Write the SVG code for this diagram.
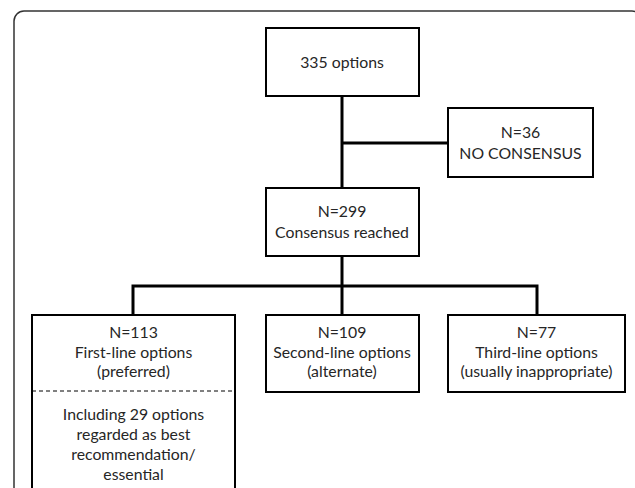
<svg xmlns="http://www.w3.org/2000/svg" width="635" height="488" viewBox="0 0 635 488">
<style>
.box{fill:#fff;stroke:#000;stroke-width:2}
.conn{fill:none;stroke:#000;stroke-width:3;stroke-linejoin:miter}
text{font-family:Lato,"Liberation Sans",sans-serif;font-size:15.8px;fill:#262626;text-anchor:middle}
</style>
<rect x="0" y="0" width="635" height="488" fill="#fff"/>
<rect id="frame" x="14" y="11" width="628" height="500" rx="10" ry="10" fill="none" stroke="#333" stroke-width="1.5"/>
<g id="connectors">
<path class="conn" d="M342,96 V188"/>
<path class="conn" d="M342,143 H448"/>
<path class="conn" d="M342,256 V315"/>
<path class="conn" d="M133,315 V286 H537 V315"/>
</g>
<g id="n-total">
<rect class="box" x="266" y="28" width="153" height="68"/>
<text x="342" y="68">335 options</text>
</g>
<g id="n-noconsensus">
<rect class="box" x="448" y="108" width="145" height="69"/>
<text x="520.5" y="138">N=36</text>
<text x="520.5" y="159">NO CONSENSUS</text>
</g>
<g id="n-consensus">
<rect class="box" x="266" y="188" width="153" height="68"/>
<text x="342" y="217">N=299</text>
<text x="342" y="238">Consensus reached</text>
</g>
<g id="n-first">
<rect class="box" x="32" y="315" width="203" height="200"/>
<line x1="32" y1="391" x2="235" y2="391" stroke="#000" stroke-width="1" stroke-dasharray="4,3"/>
<text x="133.5" y="338">N=113</text>
<text x="133.5" y="358">First-line options</text>
<text x="133.5" y="377">(preferred)</text>
<text x="133.5" y="420">Including 29 options</text>
<text x="133.5" y="440">regarded as best</text>
<text x="133.5" y="460">recommendation/</text>
<text x="133.5" y="480">essential</text>
</g>
<g id="n-second">
<rect class="box" x="266" y="315" width="153" height="77"/>
<text x="342" y="338">N=109</text>
<text x="342" y="358">Second-line options</text>
<text x="342" y="377">(alternate)</text>
</g>
<g id="n-third">
<rect class="box" x="448" y="315" width="177" height="77"/>
<text x="536.5" y="338">N=77</text>
<text x="536.5" y="358">Third-line options</text>
<text x="536.5" y="377">(usually inappropriate)</text>
</g>
</svg>
